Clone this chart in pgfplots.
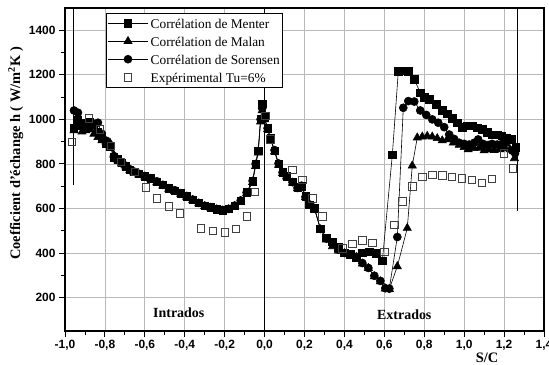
\documentclass[border=0pt]{standalone}
\usepackage{pgfplots}
\pgfplotsset{compat=1.18}
\usepackage{fontspec}
\setmainfont{Liberation Serif}
\setsansfont{Liberation Sans}
\newcommand{\legfont}{\fontsize{13.4}{18}\selectfont}

\pgfplotstableread{
x y
-0.955 960
-0.935 995
-0.915 985
-0.895 975
-0.875 990
-0.855 975
-0.835 945
-0.815 915
-0.795 890
-0.775 880
-0.755 830
-0.735 820
-0.715 805
-0.695 790
-0.675 775
-0.655 765
-0.630 755
-0.600 745
-0.570 735
-0.540 720
-0.510 705
-0.480 690
-0.450 680
-0.420 668
-0.390 655
-0.360 640
-0.330 625
-0.300 612
-0.270 605
-0.240 597
-0.210 592
-0.180 598
-0.150 612
-0.120 635
-0.090 672
-0.060 722
-0.045 800
-0.032 860
-0.020 1000
-0.012 1070
0.000 1010
0.015 960
0.030 915
0.050 858
0.070 800
0.090 762
0.110 745
0.140 720
0.165 695
0.185 700
0.205 655
0.225 617
0.250 600
0.280 510
0.310 468
0.340 450
0.370 425
0.400 402
0.430 395
0.460 378
0.490 400
0.525 405
0.560 398
0.590 365
0.640 840
0.670 1215
0.695 1217
0.720 1215
0.750 1180
0.780 1120
0.800 1100
0.825 1090
0.860 1068
0.890 1040
0.915 1025
0.940 1005
0.965 985
0.990 965
1.015 970
1.040 970
1.065 962
1.090 955
1.115 942
1.140 932
1.165 930
1.190 925
1.215 918
1.240 910
1.258 875
}\menter

\pgfplotstableread{
x y
-0.955 950
-0.935 965
-0.915 945
-0.895 950
-0.875 955
-0.855 935
-0.835 920
-0.815 905
-0.795 900
-0.775 895
-0.755 840
-0.735 815
-0.715 800
-0.695 788
-0.675 772
-0.655 762
-0.630 752
-0.600 742
-0.570 732
-0.540 717
-0.510 702
-0.480 688
-0.450 678
-0.420 665
-0.390 652
-0.360 637
-0.330 622
-0.300 610
-0.270 603
-0.240 595
-0.210 590
-0.180 596
-0.150 610
-0.120 632
-0.090 668
-0.060 718
-0.045 790
-0.032 850
-0.020 990
-0.012 1040
0.000 1000
0.015 955
0.030 910
0.050 855
0.070 795
0.090 758
0.110 742
0.140 715
0.165 690
0.185 698
0.205 650
0.225 615
0.250 598
0.280 505
0.310 460
0.340 430
0.370 410
0.400 398
0.430 390
0.460 380
0.490 352
0.520 332
0.550 295
0.580 272
0.605 240
0.625 238
0.665 340
0.715 512
0.740 792
0.765 918
0.790 922
0.815 925
0.840 922
0.865 915
0.890 905
0.915 910
0.945 895
0.975 885
1.000 875
1.020 865
1.050 870
1.075 872
1.100 860
1.125 865
1.150 862
1.180 865
1.205 870
1.230 865
1.252 825
}\malan

\pgfplotstableread{
x y
-0.955 1040
-0.935 1030
-0.915 975
-0.895 970
-0.875 985
-0.855 980
-0.835 985
-0.815 935
-0.795 905
-0.775 885
-0.755 835
-0.735 818
-0.715 802
-0.695 792
-0.675 776
-0.655 766
-0.630 756
-0.600 746
-0.570 736
-0.540 722
-0.510 706
-0.480 690
-0.450 682
-0.420 667
-0.390 656
-0.360 640
-0.330 625
-0.300 612
-0.270 606
-0.240 598
-0.210 593
-0.180 598
-0.150 613
-0.120 636
-0.090 672
-0.060 724
-0.045 800
-0.032 858
-0.020 1000
-0.012 1050
0.000 1005
0.015 960
0.030 915
0.050 862
0.070 802
0.090 762
0.110 745
0.140 718
0.165 692
0.185 702
0.205 652
0.225 618
0.250 602
0.280 508
0.310 465
0.340 440
0.370 415
0.400 400
0.430 392
0.460 383
0.490 355
0.520 333
0.550 298
0.580 275
0.605 242
0.625 240
0.665 472
0.695 1052
0.720 1082
0.750 1080
0.780 1040
0.810 1020
0.840 1000
0.870 985
0.900 965
0.925 932
0.950 912
0.975 895
1.000 890
1.025 887
1.050 895
1.070 910
1.095 890
1.120 885
1.140 890
1.165 887
1.190 890
1.210 895
1.240 860
1.255 848
}\sorensen

\pgfplotstableread{
x y
-0.965 900
-0.880 1005
-0.825 955
-0.770 880
-0.720 810
-0.650 765
-0.595 695
-0.540 645
-0.480 610
-0.425 578
-0.320 510
-0.260 500
-0.200 492
-0.145 508
-0.090 565
-0.050 675
0.005 1015
0.030 910
0.140 772
0.190 727
0.240 645
0.290 565
0.390 420
0.440 442
0.490 457
0.540 445
0.600 405
0.650 527
0.690 632
0.740 700
0.790 742
0.840 750
0.890 748
0.940 743
0.990 735
1.040 728
1.090 716
1.140 733
1.200 848
1.245 780
}\experim

\begin{document}
\begin{tikzpicture}
\begin{axis}[
  scale only axis,
  width=479bp, height=323bp,
  xmin=-1.0, xmax=1.4, ymin=50, ymax=1500,
  xtick={-1.0,-0.8,...,1.41},
  ytick={200,400,...,1400},
  minor x tick num=1, minor y tick num=1,
  tick align=outside, tick pos=left,
  major tick length=6bp, minor tick length=3.5bp,
  every tick/.style={black, line width=0.9pt},
  axis line style={line width=1.2pt},
  grid=major,
  major grid style={gray!55, line width=0.8pt},
  /pgf/number format/assume math mode=true,
  x tick label style={/pgf/number format/.cd, fixed, fixed zerofill, precision=1, use comma},
  y tick label style={/pgf/number format/.cd, fixed, precision=0, 1000 sep={}},
  tick label style={font=\sffamily\bfseries\fontsize{12}{13}\selectfont},
  xlabel={S/C},
  ylabel={Coefficient d'échange h ( W/m$^{\mathbf{2}}$K )},
  label style={font=\bfseries\fontsize{14.5}{16}\selectfont},
  xlabel style={at={(ticklabel cs:0.881)}, inner sep=0pt, yshift=1bp},
  ylabel style={at={(ticklabel cs:0.55)}, inner sep=2pt},
  legend style={at={(axis description cs:0.0856,0.985)}, anchor=north west,
    draw=black, line width=0.6pt, font=\legfont,
    cells={anchor=west}, inner sep=1pt},
  legend image code/.code={\draw[mark repeat=2,mark phase=2,#1] plot coordinates {(0cm,0cm) (0.72cm,0cm) (1.44cm,0cm)};},
]
\coordinate (ll) at (rel axis cs:0,0);
\addplot[black, line width=0.6pt, mark=square*, mark size=3.7bp, mark options={solid}] table {\menter};
\addlegendentry{\strut Corrélation de Menter}
\addplot[black, line width=0.6pt, mark=triangle*, mark size=4.7bp, mark options={solid}] table {\malan};
\addlegendentry{\strut Corrélation de Malan}
\addplot[black, line width=0.6pt, mark=*, mark size=4bp, mark options={solid}] table {\sorensen};
\addlegendentry{\strut Corrélation de Sorensen}
\addplot[only marks, mark=square, mark size=3.7bp, mark options={draw=black!75, fill=white, line width=0.8pt}] table {\experim};
\addlegendentry{\strut Expérimental Tu=6\%}
\addplot[forget plot, black, line width=1pt] coordinates {(-0.957,705) (-0.957,1500)};
\addplot[forget plot, black, line width=1.3pt] coordinates {(0,50) (0,1500)};
\addplot[forget plot, black, line width=1pt] coordinates {(1.265,590) (1.265,1500)};
\node[font=\bfseries\fontsize{14}{16}\selectfont] at (axis cs:-0.43,131) {Intrados};
\node[font=\bfseries\fontsize{14}{16}\selectfont] at (axis cs:0.70,122) {Extrados};
\end{axis}
\pgfresetboundingbox
\path (ll) ++(-65bp,-34bp) rectangle ++(549bp,365bp);
\end{tikzpicture}
\end{document}
